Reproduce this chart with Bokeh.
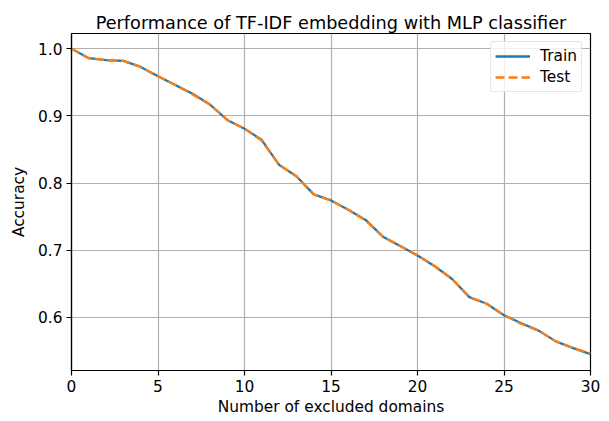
from bokeh.plotting import figure
from bokeh.models import Range1d, FixedTicker, Legend, LegendItem, NumeralTickFormatter
from bokeh.embed import file_html
from bokeh.resources import INLINE

# Data
excluded = list(range(31))
train_acc = [1.000, 0.986, 0.983, 0.982, 0.973, 0.959, 0.946, 0.933, 0.917, 0.894, 0.881,
             0.864, 0.827, 0.810, 0.783, 0.774, 0.760, 0.745, 0.720, 0.706, 0.692,
             0.676, 0.657, 0.630, 0.620, 0.603, 0.591, 0.580, 0.564, 0.554, 0.545]
test_acc = [1.000, 0.986, 0.983, 0.982, 0.973, 0.959, 0.946, 0.932, 0.917, 0.894, 0.881,
            0.863, 0.827, 0.810, 0.783, 0.774, 0.760, 0.744, 0.720, 0.706, 0.692,
            0.676, 0.657, 0.630, 0.620, 0.603, 0.590, 0.580, 0.564, 0.554, 0.546]
x_ticks = [0, 5, 10, 15, 20, 25, 30]
y_ticks = [0.6, 0.7, 0.8, 0.9, 1.0]

FONT = "DejaVu Sans"
FS = "15.4px"

p = figure(width=609, height=421, output_backend="svg", toolbar_location=None,
           x_range=Range1d(0, 30), y_range=Range1d(0.5206, 1.0228),
           title="Performance of TF-IDF embedding with MLP classifier",
           min_border_left=71, min_border_right=19, min_border_top=33, min_border_bottom=51)

p.title.align = "center"
p.title.text_font = FONT
p.title.text_font_size = "17.7px"
p.title.text_font_style = "normal"
p.title.text_color = "black"
p.title.standoff = 2

p.outline_line_color = "black"
p.outline_line_width = 1.2
p.background_fill_color = "white"
p.border_fill_color = "white"

for ax in (p.xaxis[0], p.yaxis[0]):
    ax.axis_line_color = "black"
    ax.axis_line_width = 1.2
    ax.major_tick_line_color = "black"
    ax.major_tick_line_width = 1.2
    ax.major_tick_out = 5
    ax.major_tick_in = 0
    ax.minor_tick_line_color = None
    ax.major_label_text_font = FONT
    ax.major_label_text_font_size = FS
    ax.major_label_text_color = "black"
    ax.axis_label_text_font = FONT
    ax.axis_label_text_font_size = FS
    ax.axis_label_text_font_style = "normal"
    ax.axis_label_text_color = "black"

p.xaxis[0].ticker = FixedTicker(ticks=x_ticks)
p.yaxis[0].ticker = FixedTicker(ticks=y_ticks)
p.yaxis[0].formatter = NumeralTickFormatter(format="0.0")
p.xaxis[0].axis_label = "Number of excluded domains"
p.yaxis[0].axis_label = "Accuracy"
p.xaxis[0].major_label_standoff = 4
p.xaxis[0].axis_label_standoff = 3
p.yaxis[0].major_label_standoff = 4
p.yaxis[0].axis_label_standoff = 7

p.grid.grid_line_color = "#b0b0b0"
p.grid.grid_line_width = 1.2

r1 = p.line(excluded, train_acc, line_color="#1f77b4", line_width=2.3)
r2 = p.line(excluded, test_acc, line_color="#ff7f0e", line_width=2.3, line_dash="9 4")

legend = Legend(items=[LegendItem(label="Train", renderers=[r1]),
                       LegendItem(label="Test", renderers=[r2])],
                location="top_right")
legend.label_text_font = FONT
legend.label_text_font_size = FS
legend.label_text_color = "black"
legend.glyph_width = 35
legend.glyph_height = 20
legend.label_height = 20
legend.spacing = 1
legend.padding = 4
legend.margin = 8
legend.label_standoff = 10
legend.border_line_color = "#cccccc"
legend.border_line_width = 1
legend.border_radius = 3
legend.background_fill_alpha = 0.8
p.add_layout(legend)

open("out.html", "w").write(file_html(p, INLINE))
